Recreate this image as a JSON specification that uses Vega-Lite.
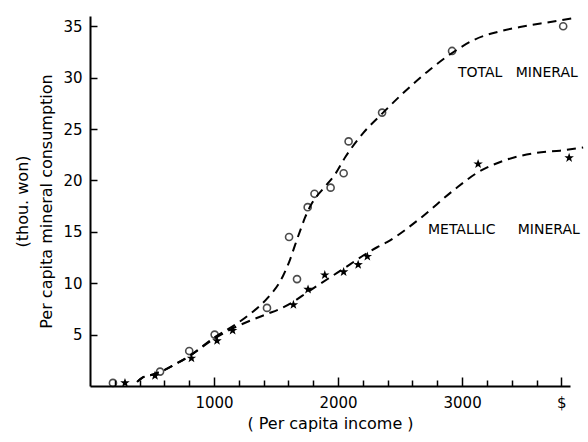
{
  "$schema": "https://vega.github.io/schema/vega-lite/v6.json",
  "width": 480,
  "height": 370,
  "autosize": {"type": "none"},
  "padding": {"left": 90, "top": 16, "right": 18, "bottom": 56},
  "config": {"view": {"stroke": null}, "font": "DejaVu Sans"},
  "datasets": {
    "points": [
      {"series": "Total mineral", "income": 185, "value": 0.3},
      {"series": "Total mineral", "income": 565, "value": 1.4},
      {"series": "Total mineral", "income": 800, "value": 3.4},
      {"series": "Total mineral", "income": 1005, "value": 5.0},
      {"series": "Total mineral", "income": 1427, "value": 7.6},
      {"series": "Total mineral", "income": 1605, "value": 14.5},
      {"series": "Total mineral", "income": 1669, "value": 10.4},
      {"series": "Total mineral", "income": 1755, "value": 17.4},
      {"series": "Total mineral", "income": 1810, "value": 18.7},
      {"series": "Total mineral", "income": 1940, "value": 19.3},
      {"series": "Total mineral", "income": 2045, "value": 20.7},
      {"series": "Total mineral", "income": 2085, "value": 23.8},
      {"series": "Total mineral", "income": 2355, "value": 26.6},
      {"series": "Total mineral", "income": 2919, "value": 32.6},
      {"series": "Total mineral", "income": 3815, "value": 35.0},
      {"series": "Metallic mineral", "income": 282, "value": 0.3},
      {"series": "Metallic mineral", "income": 524, "value": 1.0},
      {"series": "Metallic mineral", "income": 818, "value": 2.7},
      {"series": "Metallic mineral", "income": 1024, "value": 4.4},
      {"series": "Metallic mineral", "income": 1150, "value": 5.4},
      {"series": "Metallic mineral", "income": 1640, "value": 7.9},
      {"series": "Metallic mineral", "income": 1758, "value": 9.4},
      {"series": "Metallic mineral", "income": 1893, "value": 10.8},
      {"series": "Metallic mineral", "income": 2045, "value": 11.1},
      {"series": "Metallic mineral", "income": 2162, "value": 11.8},
      {"series": "Metallic mineral", "income": 2236, "value": 12.6},
      {"series": "Metallic mineral", "income": 3129, "value": 21.6},
      {"series": "Metallic mineral", "income": 3863, "value": 22.2}
    ],
    "curves": [
      {"series": "Total mineral", "income": 380, "value": 0.4},
      {"series": "Total mineral", "income": 420, "value": 0.8},
      {"series": "Total mineral", "income": 500, "value": 1.1},
      {"series": "Total mineral", "income": 590, "value": 1.5},
      {"series": "Total mineral", "income": 700, "value": 2.2},
      {"series": "Total mineral", "income": 800, "value": 2.9},
      {"series": "Total mineral", "income": 1000, "value": 4.7},
      {"series": "Total mineral", "income": 1150, "value": 5.8},
      {"series": "Total mineral", "income": 1300, "value": 7.1},
      {"series": "Total mineral", "income": 1427, "value": 8.5},
      {"series": "Total mineral", "income": 1556, "value": 10.7},
      {"series": "Total mineral", "income": 1613, "value": 12.3},
      {"series": "Total mineral", "income": 1653, "value": 13.7},
      {"series": "Total mineral", "income": 1694, "value": 15.1},
      {"series": "Total mineral", "income": 1734, "value": 16.4},
      {"series": "Total mineral", "income": 1790, "value": 17.8},
      {"series": "Total mineral", "income": 1880, "value": 19.2},
      {"series": "Total mineral", "income": 1976, "value": 20.6},
      {"series": "Total mineral", "income": 2060, "value": 22.3},
      {"series": "Total mineral", "income": 2202, "value": 24.6},
      {"series": "Total mineral", "income": 2355, "value": 26.5},
      {"series": "Total mineral", "income": 2516, "value": 28.4},
      {"series": "Total mineral", "income": 2742, "value": 30.8},
      {"series": "Total mineral", "income": 2919, "value": 32.4},
      {"series": "Total mineral", "income": 3100, "value": 33.7},
      {"series": "Total mineral", "income": 3300, "value": 34.5},
      {"series": "Total mineral", "income": 3500, "value": 35.0},
      {"series": "Total mineral", "income": 3700, "value": 35.4},
      {"series": "Total mineral", "income": 3900, "value": 35.8},
      {"series": "Metallic mineral", "income": 380, "value": 0.4},
      {"series": "Metallic mineral", "income": 420, "value": 0.8},
      {"series": "Metallic mineral", "income": 500, "value": 1.1},
      {"series": "Metallic mineral", "income": 590, "value": 1.5},
      {"series": "Metallic mineral", "income": 700, "value": 2.2},
      {"series": "Metallic mineral", "income": 800, "value": 2.9},
      {"series": "Metallic mineral", "income": 1000, "value": 4.6},
      {"series": "Metallic mineral", "income": 1150, "value": 5.6},
      {"series": "Metallic mineral", "income": 1300, "value": 6.4},
      {"series": "Metallic mineral", "income": 1427, "value": 7.0},
      {"series": "Metallic mineral", "income": 1530, "value": 7.5},
      {"series": "Metallic mineral", "income": 1640, "value": 8.2},
      {"series": "Metallic mineral", "income": 1750, "value": 9.1},
      {"series": "Metallic mineral", "income": 1992, "value": 11.0},
      {"series": "Metallic mineral", "income": 2315, "value": 13.5},
      {"series": "Metallic mineral", "income": 2395, "value": 14.0},
      {"series": "Metallic mineral", "income": 2661, "value": 16.3},
      {"series": "Metallic mineral", "income": 2927, "value": 19.0},
      {"series": "Metallic mineral", "income": 3129, "value": 20.8},
      {"series": "Metallic mineral", "income": 3331, "value": 21.9},
      {"series": "Metallic mineral", "income": 3605, "value": 22.7},
      {"series": "Metallic mineral", "income": 3790, "value": 22.9},
      {"series": "Metallic mineral", "income": 3976, "value": 23.2}
    ],
    "labels": [
      {"label": "TOTAL\u00a0\u00a0\u00a0MINERAL", "income": 2967, "value": 30.45},
      {"label": "METALLIC\u00a0\u00a0\u00a0\u00a0\u00a0MINERAL", "income": 2725, "value": 15.2}
    ]
  },
  "layer": [
    {
      "data": {"name": "curves"},
      "mark": {"type": "line", "interpolate": "monotone", "strokeDash": [9, 6], "strokeWidth": 2, "color": "black", "clip": false},
      "encoding": {
        "x": {
          "field": "income", "type": "quantitative",
          "scale": {"domain": [0, 3870], "nice": false, "zero": false},
          "axis": {
            "orient": "bottom",
            "values": [1000, 2000, 3000, 3800],
            "labelExpr": "datum.value == 3800 ? '$' : format(datum.value, 'd')",
            "tickSize": -9,
            "tickColor": "black", "tickWidth": 1.5,
            "domainColor": "black", "domainWidth": 2,
            "grid": false, "labelOverlap": false, "labelFlush": false,
            "labelFontSize": 15, "labelColor": "black", "labelPadding": 18,
            "title": "( Per capita income )", "titleFontSize": 16, "titleFontWeight": "normal", "titleColor": "black", "titlePadding": 5
          }
        },
        "y": {
          "field": "value", "type": "quantitative",
          "scale": {"domain": [0, 36], "nice": false},
          "axis": {
            "values": [5, 10, 15, 20, 25, 30, 35],
            "tickSize": -7, "tickColor": "black", "tickWidth": 1.5,
            "domainColor": "black", "domainWidth": 2,
            "grid": false,
            "labelFontSize": 15, "labelColor": "black", "labelPadding": 15,
            "title": ["(thou. won)", "Per capita mineral consumption"],
            "titleFontSize": 16, "titleFontWeight": "normal", "titleColor": "black", "titleLineHeight": 24, "titlePadding": 8
          }
        },
        "detail": {"field": "series"}
      }
    },
    {
      "data": {"name": "points"},
      "transform": [{"filter": "datum.series === 'Total mineral'"}],
      "mark": {"type": "point", "shape": "circle", "filled": false, "color": "black", "strokeWidth": 1.6, "size": 50},
      "encoding": {
        "x": {
          "field": "income", "type": "quantitative",
          "axis": {
            "orient": "bottom",
            "values": [200, 400, 600, 800, 1200, 1400, 1600, 1800, 2200, 2400, 2600, 2800, 3200, 3400, 3600],
            "labels": false, "domain": false, "grid": false, "title": null,
            "tickSize": -6, "tickColor": "black", "tickWidth": 1.5
          }
        },
        "y": {"field": "value", "type": "quantitative"}
      }
    },
    {
      "data": {"name": "points"},
      "transform": [{"filter": "datum.series === 'Metallic mineral'"}],
      "mark": {"type": "point", "shape": "M0,-1L0.235,-0.324L0.951,-0.309L0.38,0.124L0.588,0.809L0,0.4L-0.588,0.809L-0.38,0.124L-0.951,-0.309L-0.235,-0.324Z", "filled": true, "color": "black", "opacity": 1, "size": 100},
      "encoding": {
        "x": {"field": "income", "type": "quantitative", "axis": null},
        "y": {"field": "value", "type": "quantitative"}
      }
    },
    {
      "data": {"name": "labels"},
      "mark": {"type": "text", "align": "left", "baseline": "middle", "fontSize": 14, "color": "black"},
      "encoding": {
        "x": {"field": "income", "type": "quantitative", "axis": null},
        "y": {"field": "value", "type": "quantitative"},
        "text": {"field": "label"}
      }
    }
  ],
  "resolve": {"axis": {"x": "independent"}}
}
